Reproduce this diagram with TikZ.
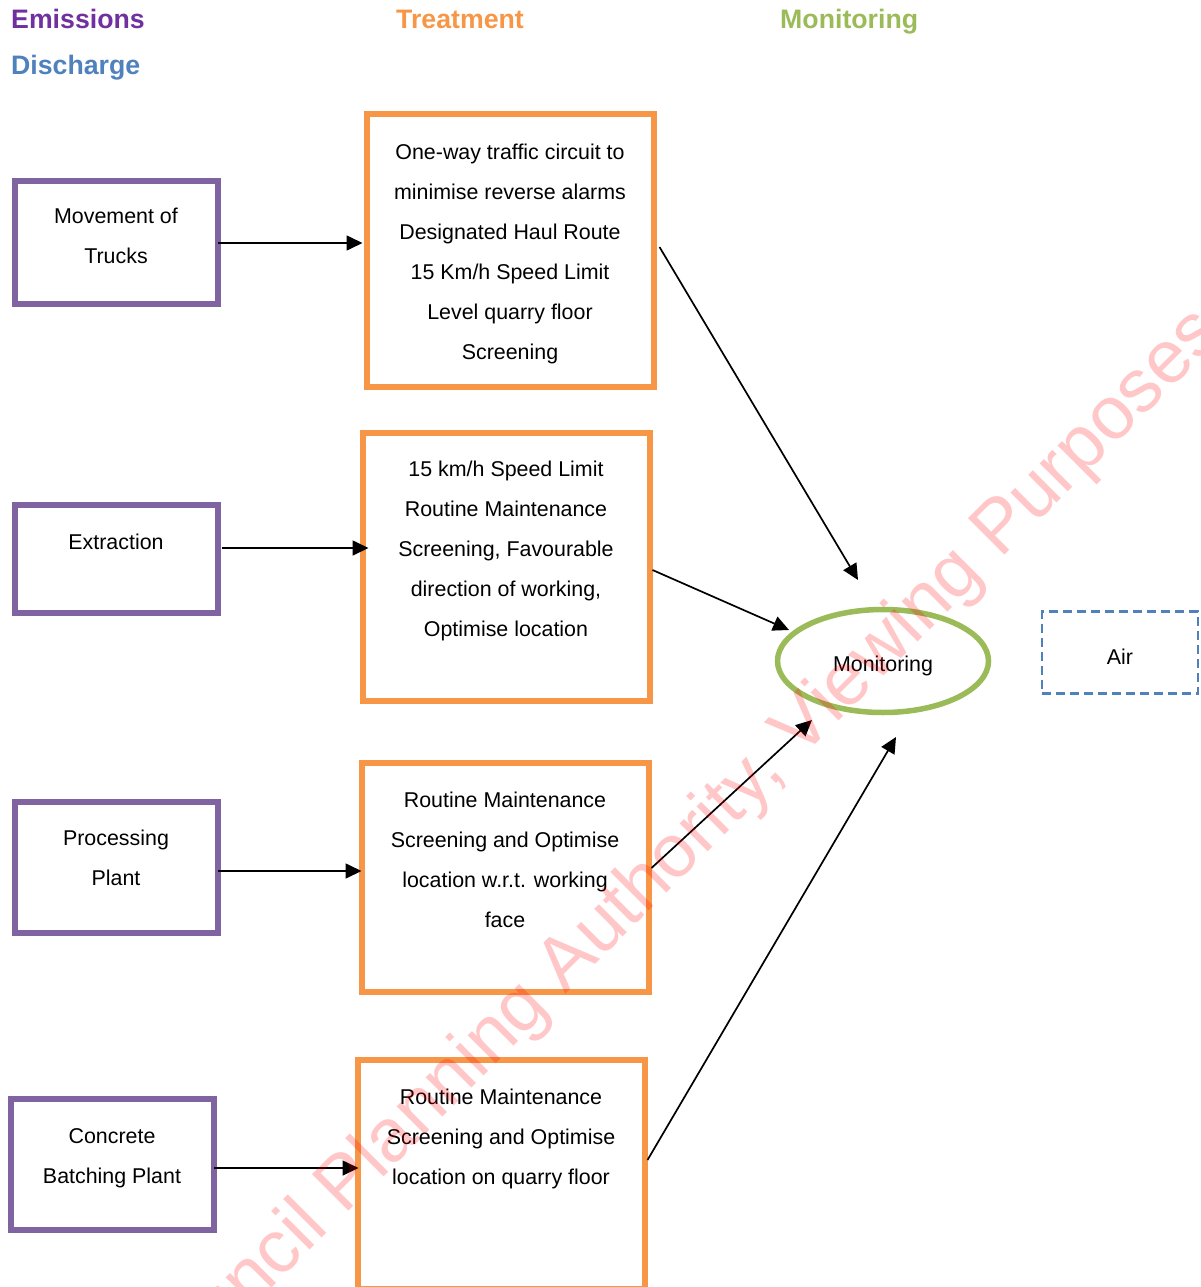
\documentclass[tikz,border=0pt]{standalone}
\usepackage{fontspec}
\setmainfont{Liberation Sans}
\usetikzlibrary{arrows.meta,calc,shapes.geometric}
\definecolor{emis}{HTML}{7030A0}
\definecolor{purp}{HTML}{8064A2}
\definecolor{orng}{HTML}{F79646}
\definecolor{grn}{HTML}{9BBB59}
\definecolor{blu}{HTML}{4F81BD}
\newcommand\fl{\rule{0pt}{17pt}}
\begin{document}
\begin{tikzpicture}[x=1pt,y=-1pt,
  srcbox/.style={draw=purp,line width=6pt,minimum width=203pt,inner sep=0pt,outer sep=0pt},
  trtbox/.style={draw=orng,line width=6pt,minimum width=287pt,inner sep=0pt,outer sep=0pt},
  body/.style={font=\fontsize{21.4}{40}\selectfont,align=center,inner sep=0pt,anchor=north},
  one/.style={font=\fontsize{21.4}{40}\selectfont,inner sep=0pt,anchor=base},
  head/.style={font=\fontsize{26.7}{30}\selectfont\bfseries,inner sep=0pt,anchor=base west},
  arr/.style={-{Triangle[length=16pt,width=15pt]},line width=1.7pt,black},
  wm/.style={font=\fontsize{75}{80}\selectfont,text=red,text opacity=0.22,inner sep=0pt,anchor=base west,rotate=45}]
\useasboundingbox (0,0) rectangle (1200,1287);
\clip (0,0) rectangle (1200,1287);
% headings
\node[head,text=emis] (hE) at (11,29) {Emissions};
\node[head,text=blu] (hD) at (11,75) {Discharge};
\node[head,text=orng] (hT) at (396,29) {Treatment};
\node[head,text=grn] (hM) at (780,29) {Monitoring};
% source boxes
\node[srcbox,minimum height=123pt] (mov) at (116,242) {};
\node[srcbox,minimum height=108pt] (ext) at (116,558.5) {};
\node[srcbox,minimum height=131pt] (proc) at (116,867) {};
\node[srcbox,minimum height=131pt] (conc) at (112,1164) {};
\node[body] (movt) at (116,206.5) {\fl Movement of\\Trucks};
\node[one] (extt) at (116,549.5) {Extraction};
\node[body] (proct) at (116,828.5) {\fl Processing\\Plant};
\node[body] (conct) at (112,1126.5) {\fl Concrete\\Batching Plant};
% treatment boxes
\node[trtbox,minimum height=272pt] (t1) at (510.5,250.5) {};
\node[trtbox,minimum height=268pt] (t2) at (506.5,566.5) {};
\node[trtbox,minimum height=229pt] (t3) at (505.5,877) {};
\node[trtbox,minimum height=229pt] (t4) at (501.5,1174) {};
\node[body] (t1t) at (510,142.5) {\fl One-way traffic circuit to\\minimise reverse alarms\\Designated Haul Route\\15 Km/h Speed Limit\\Level quarry floor\\Screening};
\node[body] (t2t) at (506,459.5) {\fl 15 km/h Speed Limit\\Routine Maintenance\\Screening, Favourable\\direction of working,\\Optimise location};
\node[body] (t3t) at (505,790.5) {\fl Routine Maintenance\\Screening and Optimise\\location w.r.t. working\\face};
\node[body] (t4t) at (501,1087.5) {\fl Routine Maintenance\\Screening and Optimise\\location on quarry floor};
% monitoring and air
\node[ellipse,draw=grn,line width=5.5pt,minimum width=211pt,minimum height=103pt,inner sep=0pt,outer sep=0pt] (mon) at (883,661) {};
\node[one] (mont) at (883,671) {Monitoring};
\node[draw=blu,line width=2.5pt,dash pattern=on 9pt off 5pt,minimum width=156pt,minimum height=82pt,inner sep=0pt,outer sep=0pt] (air) at (1120,652.5) {};
\node[one] (airt) at (1120,664.5) {Air};
% arrows
\draw[arr] ([shift={(0.5,1)}]mov.east) -- ([shift={(-4.5,-7.5)}]t1.west);
\draw[arr] ([shift={(4,-10.5)}]ext.east) -- ([shift={(5.5,-18.5)}]t2.west);
\draw[arr] ([shift={(0.5,4)}]proc.east) -- ([shift={(-0.5,-6)}]t3.west);
\draw[arr] ([shift={(0.5,4)}]conc.east) -- ([shift={(0.5,-6)}]t4.west);
\draw[arr] ([shift={(5.5,-3.5)}]t1.east) -- ([shift={(-25,-81)}]mon.center);
\draw[arr] ([shift={(2.5,3.5)}]t2.east) -- ([shift={(-94,-31)}]mon.center);
\draw[arr] ([shift={(2.5,-9)}]t3.east) -- ([shift={(-71,59)}]mon.center);
\draw[arr] ([shift={(2.5,-14)}]t4.east) -- ([shift={(13,76)}]mon.center);
% watermark
\node[wm] (wmark) at (153,1407) {Council Planning Authority, Viewing Purposes};
\end{tikzpicture}
\end{document}
